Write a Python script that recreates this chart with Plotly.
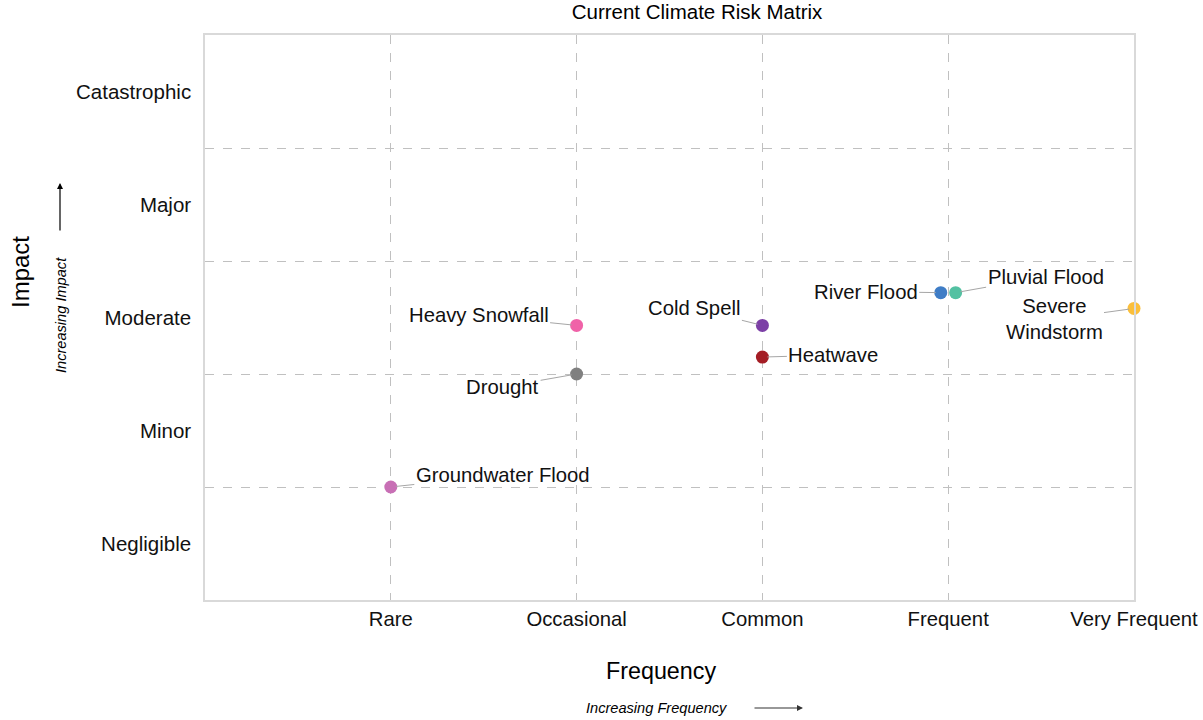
import plotly.graph_objects as go

# ---- data ----
risks = ["Groundwater Flood", "Drought", "Heavy Snowfall", "Cold Spell", "Heatwave",
         "River Flood", "Pluvial Flood", "Severe Windstorm"]
frequency = [1.0, 2.0, 2.0, 3.0, 3.0, 3.96, 4.04, 5.0]
impact = [1.0, 2.0, 2.43, 2.43, 2.15, 2.72, 2.72, 2.58]
colors = ["#c86fb5", "#808080", "#f062a8", "#7c3fa6", "#a41d25",
          "#3f7dc6", "#53c1a2", "#fbbf3b"]
label_text = ["Groundwater Flood", "Drought", "Heavy Snowfall", "Cold Spell", "Heatwave",
              "River Flood", "Pluvial Flood", "Severe<br>Windstorm"]
label_dx = [112, -74, -98, -68, 71, -75, 90, -80]
label_dy = [-12, 13, -10, -17, -2, -1, -16, 11]

freq_ticks = [1, 2, 3, 4, 5]
freq_labels = ["Rare", "Occasional", "Common", "Frequent", "Very Frequent"]
impact_ticks = [0.5, 1.5, 2.5, 3.5, 4.5]
impact_labels = ["Negligible", "Minor", "Moderate", "Major", "Catastrophic"]
impact_grid = [1, 2, 3, 4]

FONT = "Liberation Sans, Arial, sans-serif"
W, H = 1203, 720
L, R, T, B = 205, 69, 35, 120
PW, PH = W - L - R, H - T - B


def px(x):
    return (x - L) / PW


def py(y):
    return (H - B - y) / PH


fig = go.Figure()
fig.add_trace(go.Scatter(
    x=frequency, y=impact, mode="markers",
    marker=dict(size=13, color=colors, line=dict(width=0)),
    cliponaxis=False, showlegend=False, hoverinfo="text", text=risks,
))

annotations = []
for i in range(len(risks)):
    annotations.append(dict(
        x=frequency[i], y=impact[i], xref="x", yref="y",
        text=label_text[i], showarrow=True, arrowhead=0, arrowwidth=1,
        arrowcolor="#a6a6a6", ax=label_dx[i], ay=label_dy[i], standoff=5,
        font=dict(family=FONT, size=20.3, color="#111111"), align="center",
    ))

# axis titles and direction hints
annotations += [
    dict(x=px(20), y=py(272), xref="paper", yref="paper", text="Impact", textangle=-90,
         xanchor="center", yanchor="middle",
         showarrow=False, font=dict(family=FONT, size=24, color="#000000")),
    dict(x=px(61), y=py(315), xref="paper", yref="paper", text="<i>Increasing Impact</i>",
         xanchor="center", yanchor="middle",
         textangle=-90, showarrow=False, font=dict(family=FONT, size=14.6, color="#000000")),
    dict(x=px(60), y=py(183), xref="paper", yref="paper", text="", showarrow=True,
         arrowhead=2, arrowsize=1, arrowwidth=1.2, arrowcolor="#000000", ax=0, ay=49),
    dict(x=px(661), y=py(671), xref="paper", yref="paper", text="Frequency",
         xanchor="center", yanchor="middle",
         showarrow=False, font=dict(family=FONT, size=23.3, color="#000000")),
    dict(x=px(657), y=py(708), xref="paper", yref="paper", text="<i>Increasing Frequency</i>",
         xanchor="center", yanchor="middle",
         showarrow=False, font=dict(family=FONT, size=14.6, color="#000000")),
    dict(x=px(803), y=py(708), xref="paper", yref="paper", text="", showarrow=True,
         arrowhead=2, arrowsize=1, arrowwidth=1.2, arrowcolor="#333333", ax=-50, ay=0),
]

fig.update_layout(
    width=W, height=H,
    margin=dict(l=L, r=R, t=T, b=B, pad=0, autoexpand=False),
    paper_bgcolor="white", plot_bgcolor="white",
    title=dict(text="Current Climate Risk Matrix", x=697 / W, xanchor="center",
               y=1 - 12 / H, yanchor="middle",
               font=dict(family=FONT, size=20.5, color="#000000")),
    font=dict(family=FONT, color="#000000"),
    annotations=annotations,
    xaxis=dict(range=[0, 5], tickvals=freq_ticks, ticktext=freq_labels,
               showgrid=True, gridcolor="#c0c0c0", griddash="dash", gridwidth=1,
               showline=True, linecolor="#d9d9d9", linewidth=1.5, mirror=True,
               zeroline=False, ticks="", tickfont=dict(family=FONT, size=20.3, color="#111111"),
               ticklabelstandoff=0, automargin=False, fixedrange=True),
    yaxis=dict(range=[0, 5], tickvals=impact_ticks, ticktext=impact_labels,
               showgrid=False, showline=True, linecolor="#d9d9d9", linewidth=1.5, mirror=True,
               zeroline=False, ticks="", tickfont=dict(family=FONT, size=20.5, color="#111111"),
               ticklabelstandoff=8, automargin=False,
               minor=dict(tickvals=impact_grid, showgrid=True, gridcolor="#c0c0c0",
                          griddash="dash", gridwidth=1, ticks=""),
               fixedrange=True),
)

fig.write_html("out.html", config={"displayModeBar": False},
               post_script="document.body.style.margin='0';")
